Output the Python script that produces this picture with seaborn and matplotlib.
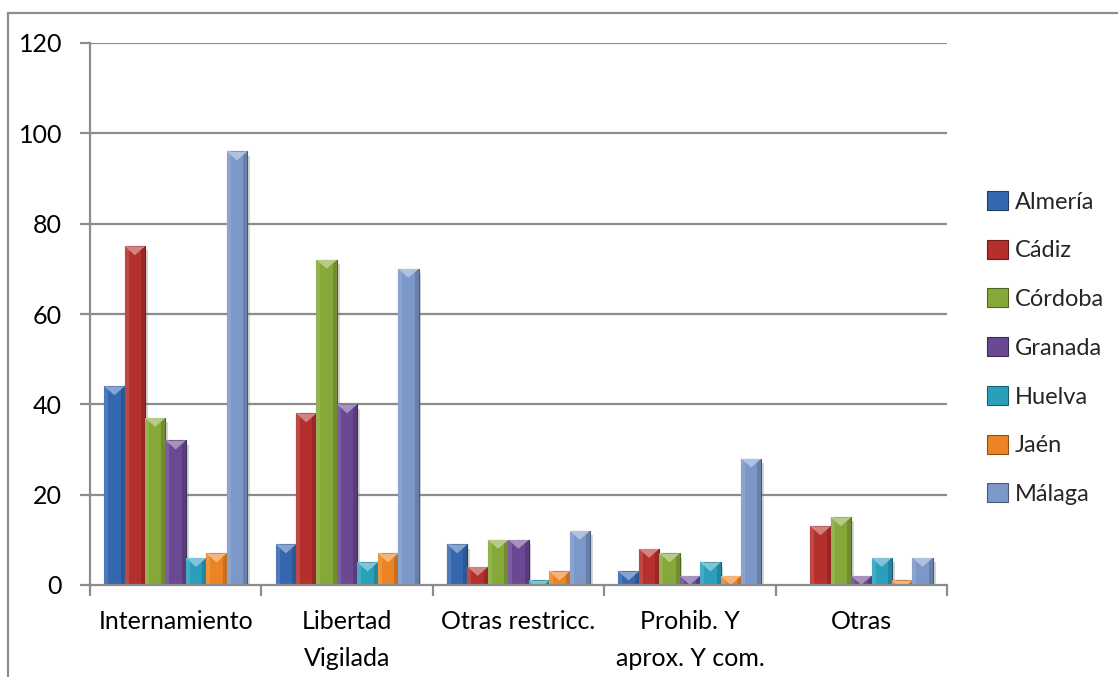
import numpy as np
import pandas as pd
import matplotlib
matplotlib.use("Agg")
import matplotlib.pyplot as plt
import matplotlib.patheffects as pe
from matplotlib.patches import Polygon, Rectangle
from matplotlib.colors import to_rgb
import seaborn as sns

categories = ["Internamiento", "Libertad\nVigilada", "Otras restricc.",
              "Prohib. Y\naprox. Y com.", "Otras"]
provinces = ["Almería", "Cádiz", "Córdoba", "Granada", "Huelva", "Jaén", "Málaga"]

almeria = [44, 9, 9, 3, 0]
cadiz = [75, 38, 4, 8, 13]
cordoba = [37, 72, 10, 7, 15]
granada = [32, 40, 10, 2, 2]
huelva = [6, 5, 1, 5, 6]
jaen = [7, 7, 3, 2, 1]
malaga = [96, 70, 12, 28, 6]

y_ticks = [0, 20, 40, 60, 80, 100, 120]

colors = ["#3567b0", "#b52f2c", "#86a838", "#6a4894", "#2a9fbc", "#ec8424", "#7b98c9"]

series = [almeria, cadiz, cordoba, granada, huelva, jaen, malaga]
df = pd.DataFrame({
    "medida": np.repeat([categories], len(provinces), axis=0).ravel(),
    "provincia": np.repeat(provinces, len(categories)),
    "valor": np.concatenate(series),
})

sns.set_theme(style="white")
plt.rcParams["font.family"] = ["Lato", "DejaVu Sans"]

W, H = 1118, 677
fig = plt.figure(figsize=(W / 100, H / 100), dpi=100)
ax = fig.add_axes([90 / W, 1 - 585 / H, (947 - 90) / W, (585 - 43) / H])

sns.barplot(data=df, x="medida", y="valor", hue="provincia", order=categories,
            hue_order=provinces, palette=colors, width=0.834, gap=0,
            saturation=1, ax=ax, legend=True, errorbar=None)

ax.set_xlim(-0.5, len(categories) - 0.5)
ax.set_ylim(0, 120)
ax.set_yticks(y_ticks)
ax.set_xlabel("")
ax.set_ylabel("")

grid_col = "#8c8c8c"
for y in y_ticks[1:]:
    ax.axhline(y, color=grid_col, lw=1.6, zorder=0)
for side in ["top", "right"]:
    ax.spines[side].set_visible(False)
for side in ["left", "bottom"]:
    ax.spines[side].set_color(grid_col)
    ax.spines[side].set_linewidth(1.6)

ax.tick_params(axis="y", which="major", length=7, width=1.6, color=grid_col,
               labelsize=18, pad=13, labelcolor="black", left=True)
ax.set_xticks(np.arange(len(categories) + 1) - 0.5, minor=True)
ax.tick_params(axis="x", which="minor", length=8, width=1.6, color=grid_col,
               bottom=True)
ax.tick_params(axis="x", which="major", length=0, labelsize=18, pad=18,
               labelcolor="black")
for lab in ax.get_xticklabels():
    lab.set_linespacing(1.75)
    lab.set_verticalalignment("top")

# bevel decoration on each bar, in pixel units
fig.canvas.draw()
to_disp = ax.transData
to_data = ax.transData.inverted()


def mix(c, t, amount):
    c = np.array(to_rgb(c))
    return tuple(c + (np.array(t) - c) * amount)


bars = [p for p in ax.patches if isinstance(p, Rectangle) and p.get_height() > 0]
for p in bars:
    base = p.get_facecolor()[:3]
    p.set_edgecolor(mix(base, (0, 0, 0), 0.4))
    p.set_linewidth(0.8)
    p.set_path_effects([pe.SimplePatchShadow(offset=(2, -3), shadow_rgbFace="#777777",
                                             alpha=0.3), pe.Normal()])
    x0, y0 = p.get_x(), p.get_y()
    x1, y1 = x0 + p.get_width(), y0 + p.get_height()
    (px0, py0), (px1, py1) = to_disp.transform([(x0, y0), (x1, y1)])
    pc = 0.5 * (px0 + px1)
    polys = [
        ([(px0, py1), (px0 + 4, py1), (px0 + 4, py0), (px0, py0)],
         mix(base, (1, 1, 1), 0.12)),
        ([(px1, py1), (px1 - 4, py1), (px1 - 4, py0), (px1, py0)],
         mix(base, (0, 0, 0), 0.16)),
        ([(px0, py1), (px1, py1), (pc, py1 - 9)],
         mix(base, (1, 1, 1), 0.4)),
    ]
    for pts, col in polys:
        poly = Polygon(to_data.transform(pts), closed=True, facecolor=col,
                       edgecolor="none", zorder=p.get_zorder() + 0.1)
        ax.add_patch(poly)
        poly.set_clip_path(p)

handles, labels = ax.get_legend_handles_labels()
leg = ax.legend(handles, labels, loc="center left",
                bbox_to_anchor=(978 / W, 1 - 348 / H), bbox_transform=fig.transFigure,
                frameon=False, fontsize=17, handlelength=0.85, handleheight=0.85,
                handletextpad=0.3, labelspacing=1.15, borderaxespad=0)
for h in leg.legend_handles:
    h.set_edgecolor(mix(h.get_facecolor()[:3], (0, 0, 0), 0.4))
    h.set_linewidth(0.8)

border = Rectangle((8 / W, -0.1), 1.2, 1.1 - 13 / H, transform=fig.transFigure,
                   facecolor="none", edgecolor="#8c8c8c", lw=1.6)
fig.patches.append(border)

fig.savefig("out.png", dpi=100)
